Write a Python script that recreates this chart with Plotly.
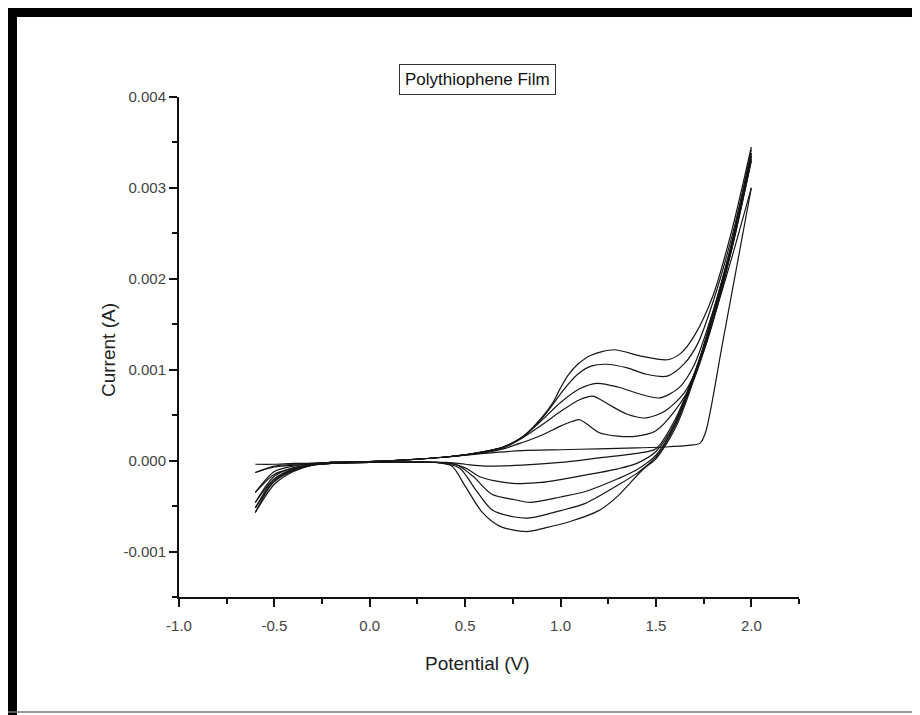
import plotly.graph_objects as go

# ---------------- data (potential in V, current in A) ----------------
# cycle 1
fwd1_E = [-0.60, -0.50, -0.40, -0.30, -0.20, 0.00, 0.20, 0.40, 0.60, 0.80, 1.00, 1.20, 1.40, 1.55, 1.68, 1.73, 1.76, 1.85, 2.00]
fwd1_I = [-0.00004, -0.00004, -0.00003, -0.00003, -0.00002, -0.00001, 0.00001, 0.00004, 0.00008, 0.00011, 0.00012, 0.00013, 0.00014, 0.00015, 0.00017, 0.00019, 0.00031, 0.00130, 0.00300]
rev1_E = [2.00, 1.90, 1.80, 1.70, 1.60, 1.50, 1.40, 1.20, 1.00, 0.80, 0.60, 0.50, 0.40, 0.20, 0.00, -0.20, -0.30, -0.40, -0.50, -0.60]
rev1_I = [0.00300, 0.00225, 0.00155, 0.00095, 0.00045, 0.00013, 0.00008, 0.00003, -0.00002, -0.00005, -0.00006, -0.00004, -0.00002, -0.00002, -0.00002, -0.00003, -0.00004, -0.00005, -0.00007, -0.00013]

# cycle 2
fwd2_E = [-0.60, -0.50, -0.40, -0.30, -0.20, 0.00, 0.20, 0.40, 0.60, 0.70, 0.80, 0.90, 1.00, 1.06, 1.10, 1.14, 1.20, 1.30, 1.40, 1.50, 1.60, 1.70, 1.80, 1.90, 2.00]
fwd2_I = [-0.00013, -0.00006, -0.00004, -0.00003, -0.00002, -0.00001, 0.00001, 0.00004, 0.00009, 0.00013, 0.00020, 0.00028, 0.00038, 0.00043, 0.00045, 0.00040, 0.00031, 0.00027, 0.00027, 0.00033, 0.00055, 0.00090, 0.00155, 0.00235, 0.00330]
rev2_E = [2.00, 1.90, 1.80, 1.70, 1.60, 1.50, 1.40, 1.30, 1.10, 0.90, 0.75, 0.65, 0.58, 0.50, 0.42, 0.30, 0.00, -0.20, -0.30, -0.40, -0.50, -0.60]
rev2_I = [0.00330, 0.00235, 0.00160, 0.00095, 0.00042, 0.00010, -0.00003, -0.00009, -0.00017, -0.00024, -0.00025, -0.00022, -0.00018, -0.00008, -0.00003, -0.00002, -0.00002, -0.00003, -0.00004, -0.00008, -0.00015, -0.00035]

# cycle 3
fwd3_E = [-0.60, -0.50, -0.40, -0.30, -0.20, 0.00, 0.20, 0.40, 0.60, 0.70, 0.80, 0.90, 1.00, 1.10, 1.17, 1.25, 1.35, 1.45, 1.55, 1.65, 1.75, 1.85, 2.00]
fwd3_I = [-0.00035, -0.00012, -0.00006, -0.00003, -0.00002, -0.00001, 0.00001, 0.00004, 0.00009, 0.00014, 0.00025, 0.00039, 0.00054, 0.00067, 0.00071, 0.00062, 0.00051, 0.00047, 0.00055, 0.00075, 0.00120, 0.00192, 0.00332]
rev3_E = [2.00, 1.90, 1.80, 1.70, 1.60, 1.50, 1.40, 1.30, 1.13, 1.00, 0.84, 0.76, 0.64, 0.54, 0.45, 0.35, 0.00, -0.20, -0.30, -0.40, -0.50, -0.60]
rev3_I = [0.00335, 0.00238, 0.00160, 0.00093, 0.00040, 0.00006, -0.00010, -0.00020, -0.00034, -0.00040, -0.00046, -0.00043, -0.00037, -0.00017, -0.00004, -0.00002, -0.00002, -0.00003, -0.00005, -0.00010, -0.00020, -0.00046]

# cycle 4
fwd4_E = [-0.60, -0.50, -0.40, -0.30, -0.20, 0.00, 0.20, 0.40, 0.60, 0.70, 0.80, 0.90, 1.00, 1.10, 1.19, 1.30, 1.42, 1.52, 1.62, 1.70, 1.80, 1.90, 2.00]
fwd4_I = [-0.00046, -0.00017, -0.00008, -0.00004, -0.00002, -0.00001, 0.00001, 0.00004, 0.00010, 0.00015, 0.00026, 0.00044, 0.00064, 0.00079, 0.00085, 0.00081, 0.00073, 0.00069, 0.00080, 0.00105, 0.00165, 0.00240, 0.00335]
rev4_E = [2.00, 1.90, 1.80, 1.70, 1.60, 1.50, 1.40, 1.30, 1.13, 1.00, 0.84, 0.76, 0.64, 0.555, 0.47, 0.35, 0.00, -0.20, -0.30, -0.40, -0.50, -0.60]
rev4_I = [0.00338, 0.00240, 0.00162, 0.00092, 0.00038, 0.00004, -0.00014, -0.00027, -0.00047, -0.00055, -0.00063, -0.00062, -0.00054, -0.00032, -0.00008, -0.00002, -0.00002, -0.00003, -0.00005, -0.00011, -0.00023, -0.00052]

# cycle 5
fwd5_E = [-0.60, -0.50, -0.40, -0.30, -0.20, 0.00, 0.20, 0.40, 0.60, 0.70, 0.80, 0.90, 0.96, 1.02, 1.09, 1.16, 1.24, 1.35, 1.45, 1.56, 1.65, 1.72, 1.80, 1.90, 2.00]
fwd5_I = [-0.00052, -0.00020, -0.00009, -0.00004, -0.00002, -0.00001, 0.00001, 0.00004, 0.00010, 0.00015, 0.00026, 0.00046, 0.00062, 0.00079, 0.00095, 0.00104, 0.00106, 0.00102, 0.00095, 0.00093, 0.00107, 0.00129, 0.00175, 0.00248, 0.00338]
rev5_E = [2.00, 1.90, 1.80, 1.70, 1.60, 1.50, 1.43, 1.30, 1.20, 1.05, 0.92, 0.82, 0.68, 0.59, 0.50, 0.43, 0.35, 0.00, -0.20, -0.30, -0.40, -0.50, -0.60]
rev5_I = [0.00342, 0.00242, 0.00163, 0.00090, 0.00035, 0.00002, -0.00010, -0.00039, -0.00055, -0.00067, -0.00074, -0.00078, -0.00072, -0.00057, -0.00028, -0.00006, -0.00002, -0.00002, -0.00003, -0.00005, -0.00012, -0.00026, -0.00057]

# cycle 6 (forward only)
fwd6_E = [-0.60, -0.50, -0.40, -0.30, -0.20, 0.00, 0.20, 0.40, 0.60, 0.70, 0.80, 0.90, 0.96, 1.00, 1.04, 1.09, 1.16, 1.28, 1.42, 1.56, 1.63, 1.70, 1.80, 1.90, 2.00]
fwd6_I = [-0.00057, -0.00022, -0.00010, -0.00004, -0.00002, -0.00001, 0.00001, 0.00004, 0.00010, 0.00015, 0.00026, 0.00047, 0.00064, 0.00080, 0.00094, 0.00106, 0.00116, 0.00122, 0.00115, 0.00111, 0.00118, 0.00137, 0.00182, 0.00255, 0.00345]

x_tick_vals = [-1.0, -0.5, 0.0, 0.5, 1.0, 1.5, 2.0]
x_tick_text = ["-1.0", "-0.5", "0.0", "0.5", "1.0", "1.5", "2.0"]
x_minor_vals = [-0.75, -0.25, 0.25, 0.75, 1.25, 1.75, 2.25]
y_tick_vals = [-0.001, 0.0, 0.001, 0.002, 0.003, 0.004]
y_tick_text = ["-0.001", "0.000", "0.001", "0.002", "0.003", "0.004"]
y_minor_vals = [-0.0015, -0.0005, 0.0005, 0.0015, 0.0025, 0.0035]

title_text = "Polythiophene Film"
x_title = "Potential (V)"
y_title = "Current (A)"

# ---------------- figure ----------------
scans = [
    (fwd1_E, fwd1_I), (rev1_E, rev1_I),
    (fwd2_E, fwd2_I), (rev2_E, rev2_I),
    (fwd3_E, fwd3_I), (rev3_E, rev3_I),
    (fwd4_E, fwd4_I), (rev4_E, rev4_I),
    (fwd5_E, fwd5_I), (rev5_E, rev5_I),
    (fwd6_E, fwd6_I),
]

fig = go.Figure()
for ex, iy in scans:
    fig.add_trace(go.Scatter(
        x=ex, y=iy, mode="lines",
        line=dict(color="#151515", width=1.2, shape="spline", smoothing=0.8),
        showlegend=False, hoverinfo="skip",
    ))

FONT = "Liberation Sans, Arial, sans-serif"

# page body has an 8 px margin: figure origin sits at screen (8, 8)
OFF = 8
FIG_W, FIG_H = 912, 707
# plot area on screen: x 179..799 px, y 97..597 px
L, T = 179 - OFF, 97 - OFF
PW, PH = 620, 500
R, B = FIG_W - L - PW, FIG_H - T - PH


def px(xs):
    return (xs - OFF - L) / PW


def py(ys):
    return (T + PH - (ys - OFF)) / PH


fig.update_layout(
    width=FIG_W, height=FIG_H,
    margin=dict(l=L, r=R, t=T, b=B, pad=0, autoexpand=False),
    paper_bgcolor="white", plot_bgcolor="white",
    font=dict(family=FONT, color="#333333"),
    showlegend=False,
    xaxis=dict(
        range=[-1.0, 2.25], showgrid=False, zeroline=False,
        showline=True, linecolor="#111111", linewidth=2,
        ticks="outside", ticklen=8, tickwidth=1.5, tickcolor="#111111",
        tickmode="array", tickvals=x_tick_vals, ticktext=x_tick_text,
        ticklabelstandoff=6,
        tickfont=dict(family=FONT, size=15, color="#444444"),
        minor=dict(tickmode="array", tickvals=x_minor_vals, ticks="outside",
                   ticklen=5, tickwidth=1.5, tickcolor="#111111", showgrid=False),
    ),
    yaxis=dict(
        range=[-0.0015, 0.004], showgrid=False, zeroline=False,
        showline=True, linecolor="#111111", linewidth=2,
        ticks="outside", ticklen=8, tickwidth=1.5, tickcolor="#111111",
        tickmode="array", tickvals=y_tick_vals, ticktext=y_tick_text,
        tickfont=dict(family=FONT, size=15, color="#444444"),
        minor=dict(tickmode="array", tickvals=y_minor_vals, ticks="outside",
                   ticklen=5, tickwidth=1.5, tickcolor="#111111", showgrid=False),
    ),
    annotations=[
        dict(text=title_text, x=px(477), y=py(80), xref="paper", yref="paper",
             xanchor="center", yanchor="middle", showarrow=False,
             font=dict(family=FONT, size=17, color="#111111"),
             bordercolor="#333333", borderwidth=1, borderpad=5, bgcolor="white"),
        dict(text=x_title, x=px(477), y=py(663), xref="paper", yref="paper",
             xanchor="center", yanchor="middle", showarrow=False,
             font=dict(family=FONT, size=19, color="#222222")),
        dict(text=y_title, x=px(108), y=py(350), xref="paper", yref="paper",
             xanchor="center", yanchor="middle", showarrow=False, textangle=-90,
             font=dict(family=FONT, size=19, color="#222222")),
    ],
    shapes=[
        # outer frame: thick top and left bars, thin bottom line
        dict(type="rect", xref="paper", yref="paper",
             x0=px(8), x1=px(920), y0=py(17), y1=py(8),
             fillcolor="black", line=dict(width=0)),
        dict(type="rect", xref="paper", yref="paper",
             x0=px(8), x1=px(17), y0=py(715), y1=py(8),
             fillcolor="black", line=dict(width=0)),
        dict(type="line", xref="paper", yref="paper",
             x0=px(8), x1=px(920), y0=py(712), y1=py(712),
             line=dict(color="#777777", width=1.5)),
    ],
)

fig.write_html("out.html")
